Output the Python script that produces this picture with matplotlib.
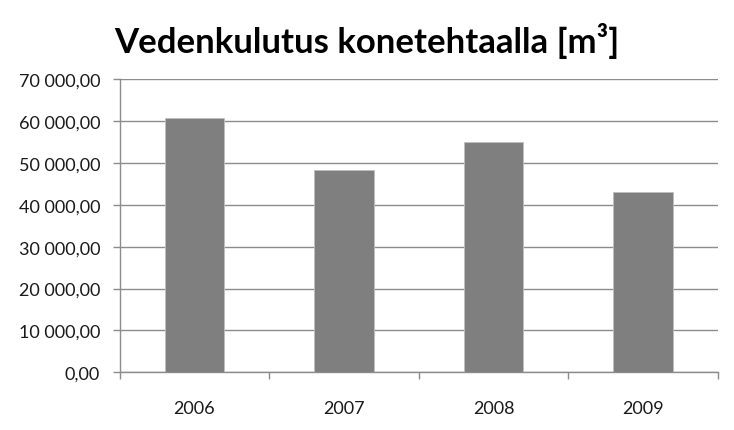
import numpy as np
import matplotlib
matplotlib.use("Agg")
import matplotlib.pyplot as plt
from matplotlib.ticker import FuncFormatter, FixedLocator

years = ["2006", "2007", "2008", "2009"]
water_m3 = [60700, 48200, 54900, 43100]
y_ticks = [0, 10000, 20000, 30000, 40000, 50000, 60000, 70000]


def fi_fmt(v, pos=None):
    s = f"{v:,.2f}"
    return s.replace(",", " ").replace(".", ",")


fig = plt.figure(figsize=(7.34, 4.31), dpi=100)
ax = fig.add_axes([0.163, 0.134, 0.815, 0.680])

x = np.arange(len(years))
ax.bar(x, water_m3, width=0.4, color='#7f7f7f', edgecolor='#bfbfbf', lw=0.6, zorder=3)

ax.set_xlim(-0.5, len(years) - 0.5)
ax.set_ylim(0, 70000)
ax.set_yticks(y_ticks)
ax.yaxis.set_major_formatter(FuncFormatter(fi_fmt))
ax.grid(axis='y', color='#8c8c8c', lw=1.0, zorder=0)

# category labels centred, tick marks between categories
ax.set_xticks(x)
ax.set_xticklabels(years)
ax.tick_params(axis='x', length=0, pad=20)
ax.xaxis.set_minor_locator(FixedLocator(np.arange(-0.5, len(years), 1.0)))
ax.tick_params(axis='x', which='minor', length=5, color='#8c8c8c', width=1.0)
ax.tick_params(axis='y', length=5, color='#8c8c8c', width=1.0, pad=9)

for lbl in ax.get_xticklabels() + ax.get_yticklabels():
    lbl.set_fontfamily('Lato')
    lbl.set_fontsize(13)
    lbl.set_color('#1a1a1a')

for side in ['top', 'right']:
    ax.spines[side].set_visible(False)
for side in ['left', 'bottom']:
    ax.spines[side].set_color('#8c8c8c')
    ax.spines[side].set_linewidth(1.0)

fig.text(0.5, 0.905, "Vedenkulutus konetehtaalla [m³]", ha='center', va='center',
         fontsize=25, fontweight='bold', fontfamily='Lato', color='black')

fig.savefig("out.png", dpi=100)
